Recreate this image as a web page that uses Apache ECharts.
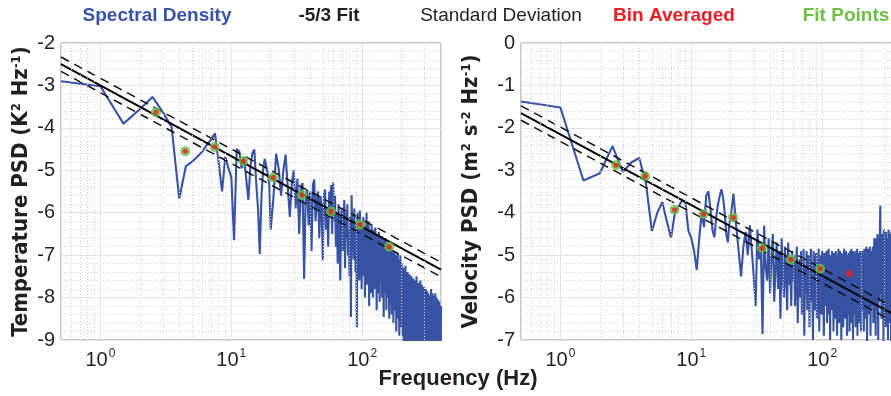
<!DOCTYPE html>
<html>
<head>
<meta charset="utf-8">
<script src="https://cdn.jsdelivr.net/npm/echarts@6/dist/echarts.min.js"></script>
<style>
html, body { margin: 0; padding: 0; background: #fff; }
#chart { width: 891px; height: 396px; }
</style>
</head>
<body>
<div id="chart"></div>
<script>
// spectrum sampling: each block starts at segStart Hz with step segStep Hz
var segStart = [0.5, 21, 61, 202];
var segStep = [0.5, 1, 1, 2];

// temperature spectrum, log10 PSD
var tempSegA = [-2.90, -3.02, -3.90, -3.56, -3.27, -3.63, -3.98, -5.67, -4.90, -4.80,
                -4.68, -4.56, -4.40, -4.28, -4.13, -4.80, -5.50, -4.68, -4.95, -5.16,
                -6.65, -4.50, -4.55, -4.95, -4.69, -5.20, -5.70, -4.90, -4.60, -4.51,
                -5.30, -5.90, -6.97, -5.60, -5.00, -4.73, -4.90, -5.10, -5.32, -6.40];
var tempSegB = [-5.63, -4.61, -4.95, -5.60, -5.00, -4.63, -5.40, -6.10, -5.30, -5.00,
                -5.90, -5.20, -6.50, -5.40, -5.30, -7.56, -5.60, -5.45, -6.30, -5.50,
                -6.90, -5.35, -5.22, -6.20, -5.70, -5.50, -6.60, -5.60, -5.90, -7.12,
                -5.60, -5.45, -6.40, -5.90, -6.80, -5.50, -6.10, -5.35, -6.50, -5.28];
var tempSegC = [-6.20, -5.60, -6.80, -6.00, -7.20, -5.80, -6.50, -7.60, -6.10, -5.90,
                -6.90, -6.30, -5.70, -7.30, -6.00, -6.60, -5.80, -7.00, -6.40, -7.50,
                -6.10, -8.46, -5.59, -6.70, -6.20, -7.10, -5.90, -6.80, -7.40, -6.30,
                -8.70, -6.00, -6.90, -6.40, -7.60, -5.95, -7.00, -6.50, -7.80, -6.20,
                -6.90, -6.10, -7.50, -6.60, -8.00, -6.30, -7.10, -6.00, -7.70, -6.50,
                -7.30, -6.20, -8.20, -6.70, -7.00, -6.40, -7.90, -6.30, -7.40, -6.60,
                -8.00, -6.40, -7.20, -6.90, -7.80, -6.35, -7.50, -6.80, -8.30, -6.50,
                -7.30, -6.70, -7.90, -6.45, -7.10, -8.10, -6.60, -7.60, -6.90, -7.40,
                -6.55, -8.00, -7.00, -6.70, -7.70, -8.46, -6.60, -7.40, -6.90, -7.90,
                -6.60, -7.20, -8.30, -6.80, -7.50, -6.70, -8.00, -7.10, -6.75, -7.80,
                -8.50, -6.80, -7.40, -7.00, -8.10, -6.85, -7.60, -8.40, -6.90, -7.30,
                -7.90, -6.95, -8.60, -7.20, -7.00, -8.00, -6.90, -7.70, -8.30, -7.05,
                -7.50, -8.80, -7.00, -7.80, -7.20, -8.20, -6.95, -7.60, -8.50, -7.10,
                -7.90, -8.90, -7.15, -7.60, -8.30, -7.00, -8.00, -7.30, -8.70, -7.20];
var tempSegD = [-7.40, -8.90, -7.30, -9.60, -7.60, -8.40, -7.25, -9.80, -7.70, -8.70,
                -7.40, -10.0, -7.80, -8.60, -7.45, -9.40, -7.90, -8.90, -7.50, -10.0,
                -7.60, -9.20, -7.55, -8.60, -9.90, -7.60, -9.30, -7.75, -10.0, -7.50,
                -8.90, -7.85, -9.70, -7.65, -8.50, -9.90, -7.70, -9.30, -7.60, -10.0,
                -7.90, -8.80, -7.70, -9.60, -7.85, -10.0, -8.10, -7.75, -9.50, -7.95,
                -8.70, -10.0, -7.80, -9.20, -8.00, -10.0, -7.85, -8.90, -9.80, -7.90,
                -8.60, -10.0, -8.10, -9.40, -7.95, -10.0, -8.30, -7.80, -9.10, -8.00,
                -10.0, -7.90, -8.80, -9.70, -8.10, -10.0, -7.95, -9.00, -8.20, -10.0,
                -7.90, -9.50, -8.30, -10.0, -8.00, -8.90, -9.90, -8.20, -10.0, -8.05,
                -9.30, -8.40, -10.0, -8.10, -9.60, -10.0, -8.30, -8.90, -10.0, -8.20];

// velocity spectrum, log10 PSD
var velSegA = [-1.38, -1.52, -3.24, -3.07, -2.43, -3.04, -2.81, -2.71, -3.30, -4.43,
               -4.00, -3.75, -4.20, -4.59, -4.00, -3.85, -3.71, -3.75, -4.42, -4.60,
               -4.90, -5.35, -4.60, -4.00, -4.34, -3.60, -3.50, -3.90, -4.40, -4.58,
               -4.10, -3.80, -3.60, -3.45, -3.65, -4.00, -4.50, -4.70, -4.30, -4.10];
var velSegB = [-3.55, -4.30, -4.90, -5.50, -4.80, -4.45, -5.00, -4.30, -4.90, -5.50,
               -6.20, -4.40, -5.10, -4.80, -6.86, -4.30, -5.30, -5.60, -4.60, -5.90,
               -5.00, -4.50, -6.10, -5.30, -4.70, -5.80, -4.90, -6.50, -4.60, -5.40,
               -6.00, -4.80, -5.50, -6.30, -4.70, -5.70, -5.10, -6.20, -4.90, -5.60];
var velSegC = [-5.00, -6.20, -5.40, -4.80, -6.60, -5.70, -5.10, -6.00, -4.90, -6.40,
               -5.50, -4.85, -6.90, -5.30, -5.90, -4.90, -6.30, -5.60, -5.00, -6.70,
               -5.20, -4.85, -6.10, -5.70, -7.00, -4.90, -5.80, -6.30, -5.10, -4.95,
               -6.50, -5.40, -6.00, -4.85, -6.80, -5.30, -5.90, -5.00, -6.40, -4.90,
               -6.10, -5.50, -6.90, -4.95, -5.80, -6.20, -5.10, -4.90, -6.60, -5.60,
               -6.00, -4.85, -6.40, -5.30, -7.00, -5.00, -5.70, -6.30, -4.90, -6.10,
               -5.40, -6.80, -4.95, -5.90, -5.20, -6.50, -4.90, -6.00, -5.60, -6.90,
               -5.00, -6.20, -4.85, -5.80, -6.60, -5.30, -4.90, -6.10, -5.50, -7.00,
               -4.95, -6.30, -5.70, -5.00, -6.70, -5.40, -4.85, -6.00, -5.90, -6.50,
               -5.10, -4.90, -6.20, -5.60, -6.90, -5.00, -5.80, -6.40, -4.95, -6.00,
               -5.30, -6.80, -4.90, -5.70, -6.30, -5.10, -4.85, -6.60, -5.50, -6.10,
               -5.00, -7.00, -4.90, -5.90, -6.40, -5.20, -4.95, -6.20, -5.60, -6.70,
               -4.90, -5.80, -6.50, -5.10, -4.85, -6.90, -5.40, -6.00, -5.00, -6.30,
               -4.95, -5.70, -6.60, -5.20, -4.90, -6.10, -5.50, -6.80, -5.00, -6.20];
var velSegD = [-4.90, -6.30, -5.40, -6.80, -4.85, -5.90, -6.50, -5.20, -4.80, -7.10,
               -5.60, -4.85, -6.40, -5.10, -6.00, -4.80, -6.90, -5.50, -4.90, -6.20,
               -5.30, -4.80, -6.60, -5.70, -4.60, -6.00, -5.20, -6.90, -4.60, -5.80,
               -6.30, -4.50, -5.60, -7.00, -4.55, -6.10, -5.00, -4.40, -3.83, -5.90,
               -4.60, -6.50, -5.10, -4.50, -6.00, -5.40, -7.10, -4.40, -5.80, -6.20,
               -4.50, -5.30, -6.70, -4.45, -5.90, -5.00, -6.40, -4.60, -7.00, -5.20,
               -4.40, -6.10, -5.50, -4.50, -6.60, -4.90, -5.80, -7.20, -4.45, -6.00,
               -5.10, -4.50, -6.80, -5.40, -4.40, -6.20, -4.90, -5.70, -7.00, -4.50,
               -6.00, -5.20, -4.45, -6.60, -5.00, -4.60, -7.10, -5.50, -4.40, -6.30,
               -4.90, -5.80, -6.70, -4.50, -5.30, -7.00, -4.40, -6.10, -5.60, -4.80];

// -5/3 fit and +/- one standard deviation, end points
var fitFreq = [0.5, 400];
var tempFit = [-2.50, -7.34];
var tempSdUp = [-2.33, -7.17];
var tempSdLo = [-2.67, -7.51];
var velFit = [-1.65, -6.49];
var velSdUp = [-1.48, -6.32];
var velSdLo = [-1.82, -6.66];

// bin averages
var binFreq = [2.66, 4.45, 7.45, 12.4, 20.8, 34.7, 57.8, 96.4, 161];
var tempBin = [-3.63, -4.55, -4.45, -4.78, -5.17, -5.58, -5.97, -6.28, -6.80];
var velBin = [-2.88, -3.14, -3.93, -4.03, -4.11, -4.83, -5.10, -5.32, -5.44];
var tempFitPts = 9;
var velFitPts = 8;

// dotted minor grid positions on the log axis
var minorFreqs = [0.6, 0.7, 0.8, 0.9, 2, 3, 4, 5, 6, 7, 8, 9,
                  20, 30, 40, 50, 60, 70, 80, 90, 200, 300];

var font = "'Liberation Sans', Arial, sans-serif";
var narrow = "'Liberation Sans Narrow', 'DejaVu Sans Condensed', 'Liberation Sans', sans-serif";
var blue = '#3953a4';
var red = '#ed1f24';
var green = '#6dbf47';
var ink = '#231f20';

function spectrum(segs) {
    var out = [];
    for (var k = 0; k < segs.length; k++) {
        for (var i = 0; i < segs[k].length; i++) {
            out.push([segStart[k] + i * segStep[k], segs[k][i]]);
        }
    }
    return out;
}
function pairs(xs, ys, n) {
    var out = [];
    for (var i = 0; i < (n || ys.length); i++) out.push([xs[i], ys[i]]);
    return out;
}

var xAxisBase = function(idx) {
    return {
        type: 'log', logBase: 10, gridIndex: idx, min: 0.5, max: 400,
        axisLine: { show: false },
        axisTick: { show: false },
        splitLine: { show: true, lineStyle: { color: '#e4e4e4', width: 1 } },
        axisLabel: {
            margin: 8, color: ink, fontFamily: font,
            formatter: function(v) {
                var e = Math.log10(v);
                if (Math.abs(e - Math.round(e)) > 1e-6) return '';
                return '{b|10}{s|' + Math.round(e) + '}';
            },
            rich: {
                b: { fontSize: 20, fontFamily: font, color: ink, verticalAlign: 'bottom' },
                s: { fontSize: 12, fontFamily: font, color: ink, verticalAlign: 'bottom', padding: [0, 0, 10, 1] }
            }
        }
    };
};
var yAxisBase = function(idx, min, max, name, gap) {
    return {
        type: 'value', gridIndex: idx, min: min, max: max, interval: 1,
        axisLine: { show: false },
        axisTick: { show: false },
        minorTick: { show: false, splitNumber: 5 },
        splitLine: { show: true, lineStyle: { color: '#e4e4e4', width: 1 } },
        minorSplitLine: { show: true, lineStyle: { color: '#d2d2d2', width: 1, type: [1, 2] } },
        axisLabel: { fontSize: 20, color: ink, fontFamily: font, margin: 6 },
        name: name, nameLocation: 'middle', nameGap: gap, nameRotate: 90,
        nameTextStyle: {
            fontSize: 22, fontWeight: 'bold', color: ink, fontFamily: narrow,
            rich: {
                n: { fontSize: 22, fontWeight: 'bold', color: ink, fontFamily: narrow },
                p: { fontSize: 13, fontWeight: 'bold', color: ink, fontFamily: narrow, padding: [0, 0, 9, 0] }
            }
        }
    };
};

function panelSeries(idx, spec, fit, up, lo, bin, nFit) {
    var ax = { xAxisIndex: idx, yAxisIndex: idx };
    var list = [];
    list.push(Object.assign({
        type: 'line', data: [], silent: true, z: 1,
        markLine: {
            silent: true, symbol: ['none', 'none'], label: { show: false },
            lineStyle: { color: '#d2d2d2', width: 1, type: [1, 2] },
            data: minorFreqs.map(function(f) { return { xAxis: f }; })
        }
    }, ax));
    list.push(Object.assign({
        type: 'line', data: spectrum(spec), showSymbol: false, z: 2, clip: true,
        lineStyle: { color: blue, width: 2.1 }
    }, ax));
    [up, lo].forEach(function(s) {
        list.push(Object.assign({
            type: 'line', data: pairs(fitFreq, s), showSymbol: false, z: 3,
            lineStyle: { color: '#111', width: 1.5, type: [9, 6] }
        }, ax));
    });
    list.push(Object.assign({
        type: 'line', data: pairs(fitFreq, fit), showSymbol: false, z: 4,
        lineStyle: { color: '#000', width: 2 }
    }, ax));
    list.push(Object.assign({
        type: 'scatter', data: pairs(binFreq, bin, nFit), symbolSize: 10, z: 5,
        itemStyle: { color: green }
    }, ax));
    // red dots sit inside the green rings; a bin without a fit point shows a full red dot
    list.push(Object.assign({
        type: 'scatter', data: pairs(binFreq, bin), z: 6,
        symbolSize: function(v, p) { return p.dataIndex < nFit ? 5 : 7; },
        itemStyle: { color: red }
    }, ax));
    return list;
}

var legendItems = [
    { text: 'Spectral Density', x: 157, color: blue, weight: 'bold' },
    { text: '-5/3 Fit', x: 329, color: ink, weight: 'bold' },
    { text: 'Standard Deviation', x: 501, color: ink, weight: 'normal' },
    { text: 'Bin Averaged', x: 674, color: red, weight: 'bold' },
    { text: 'Fit Points', x: 846, color: green, weight: 'bold' }
];

var chart = echarts.init(document.getElementById('chart'));
var option = {
    animation: false,
    backgroundColor: '#fff',
    grid: [
        { left: 61, top: 43, width: 380, height: 297, show: true, borderColor: '#8c8c8c', borderWidth: 1, containLabel: false, outerBoundsMode: 'none' },
        { left: 521, top: 43, width: 380, height: 297, show: true, borderColor: '#8c8c8c', borderWidth: 1, containLabel: false, outerBoundsMode: 'none' }
    ],
    xAxis: [xAxisBase(0), xAxisBase(1)],
    yAxis: [
        yAxisBase(0, -9, -2, '{n|Temperature PSD (K}{p|2}{n| Hz}{p|-1}{n|)}', 29),
        yAxisBase(1, -7, 0, '{n|Velocity PSD (m}{p|2}{n| s}{p|-2}{n| Hz}{p|-1}{n|)}', 39)
    ],
    graphic: legendItems.map(function(it) {
        return {
            type: 'text', x: it.x, y: 16, silent: true,
            style: {
                text: it.text, fill: it.color, textAlign: 'center', textVerticalAlign: 'middle',
                font: it.weight + ' 19px ' + font
            }
        };
    }).concat([{
        type: 'text', x: 458, y: 379, silent: true,
        style: {
            text: 'Frequency (Hz)', fill: ink, textAlign: 'center', textVerticalAlign: 'middle',
            font: 'bold 22px ' + font
        }
    }]),
    series: panelSeries(0, [tempSegA, tempSegB, tempSegC, tempSegD], tempFit, tempSdUp, tempSdLo, tempBin, tempFitPts)
        .concat(panelSeries(1, [velSegA, velSegB, velSegC, velSegD], velFit, velSdUp, velSdLo, velBin, velFitPts))
};
chart.setOption(option);
</script>
</body>
</html>
